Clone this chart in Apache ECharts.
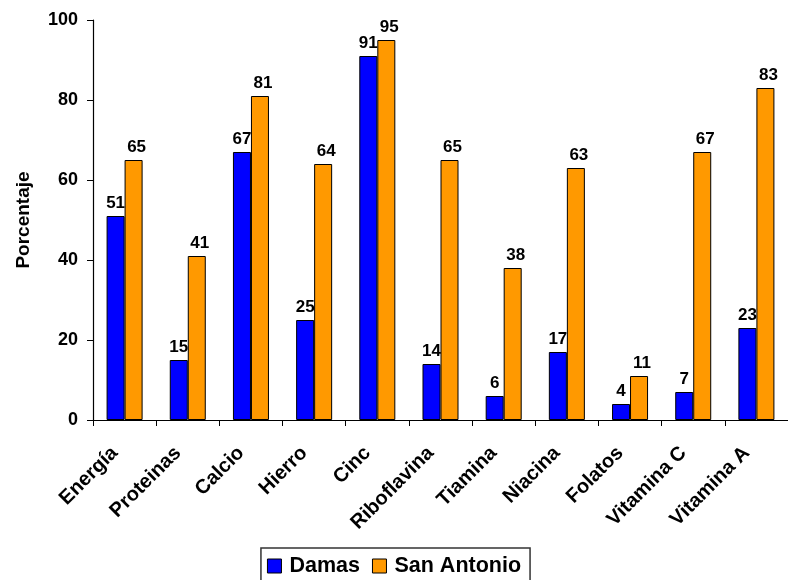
<!DOCTYPE html>
<html><head><meta charset="utf-8">
<script src="https://cdn.jsdelivr.net/npm/echarts@6/dist/echarts.min.js"></script>
<style>html,body{margin:0;padding:0;background:#fff}#c{width:788px;height:580px}</style>
</head><body><div id="c"></div>
<script>
const categories = ["Energía","Proteinas","Calcio","Hierro","Cinc","Riboflavina","Tiamina","Niacina","Folatos","Vitamina C","Vitamina A"];
const damas = [51,15,67,25,91,14,6,17,4,7,23];
const sanAntonio = [65,41,81,64,95,65,38,63,11,67,83];
const yTicks = [0,20,40,60,80,100];

const chart = echarts.init(document.getElementById('c'));
const font = '"Liberation Sans", Arial, sans-serif';
const lbl = {show:true, position:'top', color:'#000', fontWeight:'bold', fontSize:17, fontFamily:font, distance:4};
chart.setOption({
  animation:false,
  textStyle:{fontFamily:font},
  grid:{left:93, right:0, top:20, bottom:160, containLabel:false},
  legend:{
    top:548, left:'center',
    data:['Damas','San Antonio'],
    itemWidth:14, itemHeight:14, itemGap:12,
    borderColor:'#333', borderWidth:1.5, padding:[7,9,7,6],
    textStyle:{fontWeight:'bold', fontSize:21.5, color:'#000', fontFamily:font, padding:[0,0,0,3]},
    icon:'rect',
    itemStyle:{borderColor:'#000', borderWidth:1}
  },
  xAxis:{
    type:'category', data:categories,
    axisLine:{lineStyle:{color:'#000', width:1.2}},
    axisTick:{show:true, alignWithLabel:false, length:6, lineStyle:{color:'#000'}},
    axisLabel:{rotate:45, interval:0, fontWeight:'bold', fontSize:20, color:'#000', margin:20, padding:[0,14,0,0], fontFamily:font}
  },
  yAxis:{
    type:'value', min:yTicks[0], max:yTicks[yTicks.length-1], interval:20,
    name:'Porcentaje', nameLocation:'middle', nameGap:60, nameRotate:90,
    nameTextStyle:{fontWeight:'bold', fontSize:19, color:'#000', fontFamily:font},
    axisLine:{show:true, lineStyle:{color:'#000', width:1.2}},
    axisTick:{show:true, length:6, lineStyle:{color:'#000'}},
    axisLabel:{fontWeight:'bold', fontSize:18, color:'#000', margin:15, fontFamily:font},
    splitLine:{show:false}
  },
  series:[
    {name:'Damas', type:'bar', data:damas, barGap:'0%', barCategoryGap:'43%',
     itemStyle:{color:'#0000FF', borderColor:'#000', borderWidth:1}, label:lbl},
    {name:'San Antonio', type:'bar', data:sanAntonio, barGap:'0%', barCategoryGap:'43%',
     itemStyle:{color:'#FF9900', borderColor:'#000', borderWidth:1}, label:Object.assign({}, lbl, {offset:[3,0]})}
  ]
});
</script></body></html>
